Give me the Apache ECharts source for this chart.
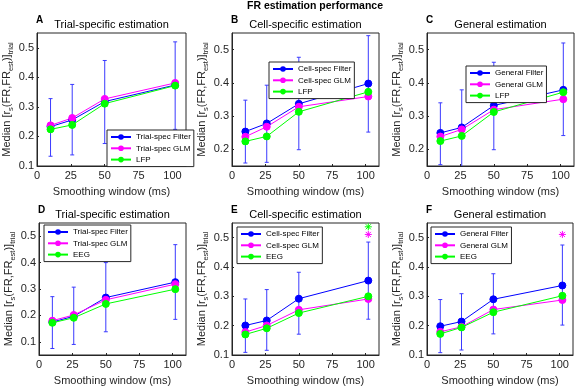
<!DOCTYPE html>
<html>
<head>
<meta charset="utf-8">
<script src="https://cdn.jsdelivr.net/npm/echarts@6/dist/echarts.min.js"></script>
<style>
  html, body { margin: 0; padding: 0; background: #fff; }
  #chart { width: 575px; height: 387px; }
</style>
</head>
<body>
<div id="chart"></div>
<script>
// smoothing windows (x positions of the points) and axis ticks
const windows = [10, 26, 50, 102];
const xTicks = [0, 25, 50, 75, 100];

// A - trial-specific, LFP
const aFilter = [0.233, 0.256, 0.318, 0.374];
const aGlm = [0.2375, 0.2625, 0.327, 0.381];
const aLfp = [0.224, 0.239, 0.311, 0.372];
const aLow = [0.133, 0.1375, 0.176, 0.224];
const aHigh = [0.328, 0.376, 0.457, 0.52];

// B - cell-specific, LFP
const bFilter = [0.2535, 0.278, 0.337, 0.398];
const bGlm = [0.238, 0.268, 0.328, 0.359];
const bLfp = [0.224, 0.239, 0.313, 0.373];
const bLow = [0.159, 0.161, 0.199, 0.252];
const bHigh = [0.348, 0.393, 0.477, 0.542];

// C - general, LFP
const cFilter = [0.2496, 0.266, 0.332, 0.379];
const cGlm = [0.2385, 0.26, 0.3195, 0.351];
const cLfp = [0.225, 0.2405, 0.3125, 0.372];
const cLow = [0.154, 0.14, 0.199, 0.2415];
const cHigh = [0.34, 0.379, 0.462, 0.52];

// D - trial-specific, EEG
const dFilter = [0.175, 0.1965, 0.2676, 0.326];
const dGlm = [0.18, 0.2016, 0.259, 0.3184];
const dEeg = [0.172, 0.191, 0.2435, 0.2994];
const dLow = [0.0746, 0.09, 0.138, 0.185];
const dHigh = [0.271, 0.307, 0.4, 0.468];

// E - cell-specific, EEG
const eFilter = [0.2006, 0.2177, 0.292, 0.3537];
const eGlm = [0.178, 0.2006, 0.254, 0.291];
const eEeg = [0.17, 0.191, 0.243, 0.3];
const eLow = [0.109, 0.116, 0.171, 0.222];
const eHigh = [0.291, 0.323, 0.382, 0.485];
const eStarGlm = [[102, 0.511]];
const eStarEeg = [[102, 0.537]];

// F - general, EEG
const fFilter = [0.198, 0.214, 0.29, 0.337];
const fGlm = [0.179, 0.196, 0.255, 0.2875];
const fEeg = [0.172, 0.194, 0.246, 0.302];
const fLow = [0.108, 0.117, 0.172, 0.202];
const fHigh = [0.289, 0.309, 0.377, 0.475];
const fStarGlm = [[102, 0.511]];

const yTicksLow = [0.1, 0.2, 0.3, 0.4, 0.5];
const yTicksHigh = [0.2, 0.3, 0.4, 0.5];

const BLUE = '#0000ff', MAG = '#ff00ff', GREEN = '#00ff00';
const AXC = '#262626';
const FONT = 'Liberation Sans, Arial, Helvetica, sans-serif';

const panels = [
  { letter: 'A', title: 'Trial-specific estimation', names: ['Trial-spec Filter', 'Trial-spec GLM', 'LFP'],
    filter: aFilter, glm: aGlm, third: aLfp, low: aLow, high: aHigh, yMin: 0.1, yTicks: yTicksLow, stars: [] },
  { letter: 'B', title: 'Cell-specific estimation', names: ['Cell-spec Filter', 'Cell-spec GLM', 'LFP'],
    filter: bFilter, glm: bGlm, third: bLfp, low: bLow, high: bHigh, yMin: 0.15, yTicks: yTicksHigh, stars: [] },
  { letter: 'C', title: 'General estimation', names: ['General Filter', 'General GLM', 'LFP'],
    filter: cFilter, glm: cGlm, third: cLfp, low: cLow, high: cHigh, yMin: 0.15, yTicks: yTicksHigh, stars: [] },
  { letter: 'D', title: 'Trial-specific estimation', names: ['Trial-spec Filter', 'Trial-spec GLM', 'EEG'],
    filter: dFilter, glm: dGlm, third: dEeg, low: dLow, high: dHigh, yMin: 0.05, yTicks: yTicksLow, stars: [] },
  { letter: 'E', title: 'Cell-specific estimation', names: ['Cell-spec Filter', 'Cell-spec GLM', 'EEG'],
    filter: eFilter, glm: eGlm, third: eEeg, low: eLow, high: eHigh, yMin: 0.1, yTicks: yTicksLow,
    stars: [[eStarGlm, MAG], [eStarEeg, GREEN]] },
  { letter: 'F', title: 'General estimation', names: ['General Filter', 'General GLM', 'EEG'],
    filter: fFilter, glm: fGlm, third: fEeg, low: fLow, high: fHigh, yMin: 0.1, yTicks: yTicksLow,
    stars: [[fStarGlm, MAG]] }
];

// plot boxes and legend boxes (px)
const layout = [
  { left: 37, top: 33, width: 149, height: 133, lgLeft: 107, lgTop: 130 },
  { left: 232, top: 33, width: 147, height: 133, lgLeft: 269, lgTop: 62 },
  { left: 427, top: 33, width: 147, height: 133, lgLeft: 466, lgTop: 66 },
  { left: 39, top: 223, width: 147, height: 132, lgLeft: 44, lgTop: 225 },
  { left: 232, top: 223, width: 147, height: 132, lgLeft: 237, lgTop: 227 },
  { left: 427, top: 223, width: 146, height: 132, lgLeft: 431, lgTop: 227 }
];

function pairs(ys) { return windows.map((x, i) => [x, ys[i]]); }

function errRender(params, api) {
  const x = api.value(0);
  const p1 = api.coord([x, api.value(1)]);
  const p2 = api.coord([x, api.value(2)]);
  const w = 2;
  const style = { stroke: '#3a3aff', lineWidth: 1 };
  return { type: 'group', children: [
    { type: 'line', shape: { x1: p1[0], y1: p1[1], x2: p2[0], y2: p2[1] }, style: style },
    { type: 'line', shape: { x1: p1[0] - w, y1: p1[1], x2: p1[0] + w, y2: p1[1] }, style: style },
    { type: 'line', shape: { x1: p2[0] - w, y1: p2[1], x2: p2[0] + w, y2: p2[1] }, style: style }
  ] };
}

function starRender(color) {
  return function (params, api) {
    const c = api.coord([api.value(0), api.value(1)]);
    const r = 3.5, d = r * 0.72;
    const style = { stroke: color, lineWidth: 1 };
    return { type: 'group', children: [
      { type: 'line', shape: { x1: c[0] - r, y1: c[1], x2: c[0] + r, y2: c[1] }, style: style },
      { type: 'line', shape: { x1: c[0], y1: c[1] - r, x2: c[0], y2: c[1] + r }, style: style },
      { type: 'line', shape: { x1: c[0] - d, y1: c[1] - d, x2: c[0] + d, y2: c[1] + d }, style: style },
      { type: 'line', shape: { x1: c[0] - d, y1: c[1] + d, x2: c[0] + d, y2: c[1] - d }, style: style }
    ] };
  };
}

const grids = [], xAxes = [], yAxes = [], series = [], legends = [], graphics = [];

graphics.push({ type: 'text', x: 315, y: 6, style: { text: 'FR estimation performance', font: 'bold 10.5px ' + FONT,
  fill: '#000', align: 'center', verticalAlign: 'middle' } });

panels.forEach((p, i) => {
  const L = layout[i];
  grids.push({ left: L.left, top: L.top, width: L.width, height: L.height, show: true,
    borderColor: AXC, borderWidth: 1, backgroundColor: '#fff' });
  xAxes.push({ gridIndex: i, type: 'value', min: 0, max: 110,
    name: 'Smoothing window (ms)', nameLocation: 'middle', nameGap: 20,
    nameTextStyle: { fontSize: 11, color: AXC, fontFamily: FONT },
    axisLine: { lineStyle: { color: AXC } },
    axisTick: { inside: true, length: 2, customValues: xTicks, lineStyle: { color: AXC } },
    axisLabel: { customValues: xTicks, fontSize: 11, color: AXC, fontFamily: FONT, margin: 4 },
    splitLine: { show: false } });
  yAxes.push({ gridIndex: i, type: 'value', min: p.yMin, max: 0.55,
    name: '{a|Median [r}{s|s}{a|(FR,FR}{s|est}{a|)]}{s|trial}', nameLocation: 'middle', nameGap: 22, nameRotate: 90,
    nameTextStyle: { color: AXC, fontFamily: FONT, rich: {
      a: { fontSize: 11, lineHeight: 16, verticalAlign: 'middle', color: AXC, fontFamily: FONT },
      s: { fontSize: 7.5, lineHeight: 8, verticalAlign: 'bottom', color: AXC, fontFamily: FONT } } },
    axisLine: { show: true, lineStyle: { color: AXC } },
    axisTick: { show: true, inside: true, length: 2, customValues: p.yTicks, lineStyle: { color: AXC } },
    axisLabel: { customValues: p.yTicks, fontSize: 11, color: AXC, fontFamily: FONT, margin: 3 },
    splitLine: { show: false } });

  const cx = L.left + L.width / 2;
  graphics.push({ type: 'text', x: cx, y: L.top - 8, style: { text: p.title, font: '11px ' + FONT,
    fill: '#000', align: 'center', verticalAlign: 'middle' } });
  graphics.push({ type: 'text', x: L.left - 1, y: L.top - 13, style: { text: p.letter, font: 'bold 10px ' + FONT,
    fill: '#000', align: 'left', verticalAlign: 'middle' } });

  series.push({ name: 'err' + p.letter, type: 'custom', xAxisIndex: i, yAxisIndex: i, clip: true, z: 2,
    renderItem: errRender, encode: { x: 0, y: [1, 2] },
    data: windows.map((x, k) => [x, p.low[k], p.high[k]]) });
  [[p.filter, BLUE], [p.glm, MAG], [p.third, GREEN]].forEach((s, k) => {
    series.push({ name: p.names[k], type: 'line', xAxisIndex: i, yAxisIndex: i, z: 3,
      symbol: 'circle', symbolSize: 7, showSymbol: true,
      itemStyle: { color: s[1], borderColor: s[1] },
      lineStyle: { color: s[1], width: 1 },
      data: pairs(s[0]) });
  });
  p.stars.forEach((st, k) => {
    series.push({ name: 'star' + p.letter + k, type: 'custom', xAxisIndex: i, yAxisIndex: i, z: 4,
      renderItem: starRender(st[1]), data: st[0] });
  });

  legends.push({ data: p.names, orient: 'vertical', left: L.lgLeft, top: L.lgTop,
    itemWidth: 20, itemHeight: 7, itemGap: 3.3, padding: [3, 3, 3, 3],
    backgroundColor: '#fff', borderColor: AXC, borderWidth: 1,
    textStyle: { fontSize: 8, color: '#000', fontFamily: FONT }, selectedMode: false });
});

const chart = echarts.init(document.getElementById('chart'));
chart.setOption({
  animation: false,
  backgroundColor: '#fff',
  grid: grids,
  xAxis: xAxes,
  yAxis: yAxes,
  legend: legends,
  series: series,
  graphic: graphics
});
</script>
</body>
</html>
